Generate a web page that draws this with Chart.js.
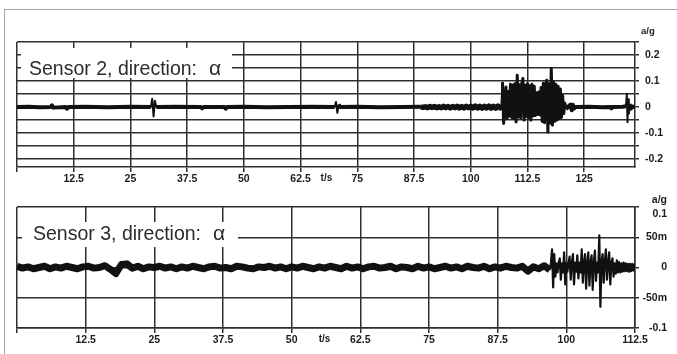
<!DOCTYPE html>
<html>
<head>
<meta charset="utf-8">
<script src="https://cdn.jsdelivr.net/npm/chart.js@4.4.0/dist/chart.umd.min.js"></script>
<style>
  html, body { margin: 0; padding: 0; background: #fff; }
  body { width: 677px; height: 354px; position: relative; overflow: hidden; }
  .frame { position: absolute; left: 4px; top: 9px; right: 0; bottom: 0; border-top: 1px solid #a3a3a3; border-left: 1px solid #a3a3a3; }
  .panel { position: absolute; left: 0; width: 677px; }
  #top { top: 0; height: 188px; }
  #bottom { top: 188px; height: 166px; }
</style>
</head>
<body>
<div class="frame"></div>
<div class="panel" id="top"><canvas id="sensor2Chart"></canvas></div>
<div class="panel" id="bottom"><canvas id="sensor3Chart"></canvas></div>
<script>
// sensor 2 record, time in s, acceleration in mg
const sensor2Time = [
  0, 2.5, 5, 7.4, 7.7, 8, 10.7, 11, 11.3, 15, 20, 25, 29.5, 29.8, 30.1, 30.4, 30.7, 35,
  40.5, 40.8, 41.1, 45.7, 46, 46.3, 50, 55, 60, 65, 70, 70.3, 70.6, 70.9, 71.2, 75, 80, 85, 89,
  89.5, 90, 90.5, 91, 91.5, 92, 92.5, 93, 93.5, 94, 94.5, 95, 95.5, 96, 96.5, 97, 97.5, 98,
  98.5, 99, 99.5, 100, 100.5, 101, 101.5, 102, 102.5, 103, 103.5, 104, 104.5, 105, 105.5,
  106, 106.5, 106.75,
  107, 107.25, 107.5, 107.75, 108, 108.25, 108.5, 108.75, 109, 109.25,
  109.5, 109.75, 110, 110.25, 110.5, 110.75, 111, 111.25, 111.5, 111.75,
  112, 112.25, 112.5, 112.75, 113, 113.25, 113.5, 113.75, 114, 114.25,
  114.5, 114.75, 115, 115.25, 115.5, 115.75, 116, 116.25, 116.5, 116.75,
  117, 117.25, 117.5, 117.75, 118, 118.25, 118.5, 118.75, 119, 119.25,
  119.5, 119.75, 120, 120.25, 120.5, 120.75, 121,
  121.5, 122, 122.25, 122.5, 122.75, 123, 126, 129, 130.8, 131, 131.2, 133.5, 134.2,
  134.4, 134.55, 134.7, 134.85, 135, 135.3, 135.6, 136.2
];
const sensor2Accel = [
  0, 1, -1, 0, 7, -2, 0, -6, 0, 1, -1, 1, 0, 32, -36, 24, 0, 1,
  0, -5, 0, 0, -6, 0, 1, -1, 0, 1, 0, 20, -22, 10, 0, 1, -1, 0, 1,
  -1, 1, -2, 2, -1, 2, -2, 1, -2, 3, -2, 2, -3, 2, -2, 3, -3, 2,
  -3, 3, -2, 3, -3, 4, -3, 3, -4, 3, -3, 4, -4, 3, -4,
  4, -3, 2,
  96, -63, 10, 77, -44, 60, -35, 88, -40, 85,
  -45, 90, -57, 122, -38, 86, -42, 92, 110, -50,
  84, -36, 90, -40, 82, -50, 88, -34, 80, -32,
  55, -28, 58, -30, 75, -55, 92, -60, 85, 103,
  -96, 90, -62, 148, -70, 95, -55, 88, -50, 80,
  -45, 70, -40, 45, -25, 15, -8,
  2, 10, -12, 9, -6, 0, 1, -1, 0, -5, 0, 1, 3,
  51, -58, 30, -25, 12, -6, 2, 0
];

// sensor 3 record, time in s, acceleration in mg
const sensor3Time = [
  0, 1, 2, 3, 4, 5, 6, 7, 8, 9, 10, 11, 12, 13, 14, 15, 16, 17, 18, 19,
  20, 21, 22, 23, 24, 25, 26, 27, 28, 29, 30, 31, 32, 33, 34, 35, 36, 37, 38, 39,
  40, 41, 42, 43, 44, 45, 46, 47, 48, 49, 50, 51, 52, 53, 54, 55, 56, 57, 58, 59,
  60, 61, 62, 63, 64, 65, 66, 67, 68, 69, 70, 71, 72, 73, 74, 75, 76, 77, 78, 79,
  80, 81, 82, 83, 84, 85, 86, 87, 88, 89, 90, 91, 92, 93, 94, 95, 96, 97,
  97.2, 97.4, 97.6, 97.8, 98, 98.2, 98.4, 98.6, 98.8, 99,
  99.2, 99.4, 99.6, 99.8, 100, 100.2, 100.4, 100.6, 100.8, 101,
  101.2, 101.4, 101.6, 101.8, 102, 102.2, 102.4, 102.6, 102.8, 103,
  103.2, 103.4, 103.6, 103.8, 104, 104.2, 104.4, 104.6, 104.8, 105,
  105.2, 105.4, 105.6, 105.8, 106, 106.2, 106.4, 106.6, 106.8, 107,
  107.2, 107.4, 107.6, 107.8, 108, 108.2, 108.4, 108.6, 108.8, 109,
  109.2, 109.4, 109.6, 109.8, 110, 110.2, 110.4, 110.6, 110.8, 111,
  111.2, 111.4, 111.6, 111.8, 112, 112.2, 112.4, 112.5
];
const sensor3Accel = [
  2, -1, 1, -2, 0, 2, -2, 1, -1, 2, 0, -2, 1, 2, -1, 0, 3, -3, -10, 5,
  6, -1, 2, -2, 1, 0, 2, -1, 1, -2, 1, -1, 2, 0, -2, 1, 2, -1, 0, -2,
  2, 1, -1, -2, 1, 0, 2, -1, 1, -2, 1, -1, 2, 0, -2, 1, -1, 2, 0, -2,
  2, -1, 1, -2, 1, 2, -1, 0, 2, -2, 1, 0, -2, 2, -1, 1, -2, 0, 2, -1,
  1, -2, 2, 0, -1, 2, -2, 1, -1, 2, 0, -1, 2, -6, 1, -2, 3, -4,
  8, 30, -33, 22, -15, 7, -8, 8, 15, -20,
  7, -8, 25, -28, 8, -7, 8, 18, -20, 7,
  22, -28, 8, -7, 20, -18, 8, -8, 30, -25,
  8, 22, -35, 8, 25, -30, 8, 20, -37, 7,
  28, -22, 8, -8, 53, -65, 8, 22, -25, 8,
  30, -20, 7, 25, -28, 8, 15, -15, 7, -10,
  12, -8, 9, -8, 7, -7, 8, -6, 7, -6,
  6, -7, 6, -6, 6, -5, 5, 0
];

const sensor2TimeTicks = [0, 12.5, 25, 37.5, 50, 62.5, 75, 87.5, 100, 112.5, 125];
const sensor3TimeTicks = [0, 12.5, 25, 37.5, 50, 62.5, 75, 87.5, 100, 112.5];
const sensor2AccelTicks = [-200, -150, -100, -50, 0, 50, 100, 150, 200, 250];
const sensor3AccelTicks = [-100, -50, 0, 50, 100];
const sensor3AccelLabels = ['-0.1', '-50m', '0', '50m', ['a/g', '0.1']];

const FONT = '"Liberation Sans", Arial, sans-serif';
const INK = '#1c1c1c';
const GRID = '#2e2e2e';

// white caption box + unit labels drawn over the grid
const panelText = {
  id: 'panelText',
  afterDatasetsDraw(chart, args, o) {
    const { ctx, chartArea: a, scales } = chart;
    ctx.save();
    ctx.fillStyle = '#fff';
    ctx.fillRect(a.left + o.box[0], a.top + o.box[1], o.box[2], o.box[3]);
    ctx.fillStyle = '#2c2c2c';
    ctx.font = '19.5px ' + FONT;
    ctx.textBaseline = 'alphabetic';
    ctx.textAlign = 'left';
    ctx.fillText(o.title, a.left + o.text[0], a.top + o.text[1]);
    const w = ctx.measureText(o.title).width;
    ctx.font = '21px ' + FONT;
    ctx.fillText('\u03b1', a.left + o.text[0] + w + 12, a.top + o.text[1]);
    ctx.fillStyle = INK;
    ctx.font = 'bold 10px ' + FONT;
    ctx.textBaseline = 'middle';
    ctx.fillText('t/s', scales.x.getPixelForValue(o.unitAt[0]) + o.unitAt[1], a.bottom + 11);
    if (o.yUnit) {
      ctx.font = 'bold 9.5px ' + FONT;
      ctx.fillText('a/g', a.right + 6, a.top - 11);
    }
    ctx.restore();
  }
};

function xAxis(max, ticks, height) {
  return {
    type: 'linear', min: 0, max: max,
    afterBuildTicks: s => { s.ticks = ticks.map(v => ({ value: v })); },
    afterFit: s => { s.height = height; },
    grid: { color: GRID, lineWidth: 1.5, tickLength: 5, tickColor: GRID },
    border: { color: GRID, width: 1.5 },
    ticks: {
      color: INK, padding: 1, maxRotation: 0, autoSkip: false,
      font: { family: FONT, size: 10.5, weight: 'bold' },
      callback: v => v === 0 ? '' : String(v)
    }
  };
}

const common = {
  responsive: true,
  maintainAspectRatio: false,
  animation: false,
  events: [],
  elements: { point: { radius: 0 }, line: { tension: 0, borderJoinStyle: 'round' } },
};

new Chart(document.getElementById('sensor2Chart'), {
  type: 'line',
  data: {
    datasets: [{
      data: sensor2Time.map((t, i) => ({ x: t, y: sensor2Accel[i] })),
      borderColor: '#111',
      borderWidth: 4,
      segment: {
        borderWidth: c => {
          const x0 = c.p0.parsed.x, x1 = c.p1.parsed.x;
          if (x0 >= 107 && x1 <= 121) return 3;              // dense burst
          if (Math.max(Math.abs(c.p0.parsed.y), Math.abs(c.p1.parsed.y)) > 12) return 2; // lone spikes
          return (x0 >= 89 && x1 <= 107) ? 5.5 : 4;
        }
      }
    }]
  },
  options: {
    ...common,
    layout: { padding: { left: 17, top: 42, right: 0, bottom: 0 } },
    plugins: {
      legend: { display: false }, tooltip: { enabled: false },
      panelText: { title: 'Sensor 2, direction:', box: [4, 6, 211, 30], text: [12, 33], unitAt: [62.5, 20], yUnit: true }
    },
    scales: {
      x: xAxis(136.2, sensor2TimeTicks, 21),
      y: {
        position: 'right', min: -230, max: 250,
        afterBuildTicks: s => { s.ticks = sensor2AccelTicks.map(v => ({ value: v })); },
        afterFit: s => { s.width = 42; },
        grid: { color: GRID, lineWidth: 1.5, tickLength: 4, tickColor: GRID },
        border: { color: GRID, width: 1.5 },
        ticks: {
          color: INK, padding: 6, crossAlign: 'near', autoSkip: false,
          font: { family: FONT, size: 10.5, weight: 'bold' },
          callback: v => v % 100 === 0 ? String(v / 1000) : ''
        }
      }
    }
  },
  plugins: [panelText]
});

new Chart(document.getElementById('sensor3Chart'), {
  type: 'line',
  data: {
    datasets: [{
      data: sensor3Time.map((t, i) => ({ x: t, y: sensor3Accel[i] })),
      borderColor: '#111',
      borderWidth: 7,
      segment: {
        borderWidth: c => c.p1.parsed.x <= 97 ? 7 : 2.2
      }
    }]
  },
  options: {
    ...common,
    layout: { padding: { left: 17, top: 19, right: 10, bottom: 0 } },
    plugins: {
      legend: { display: false }, tooltip: { enabled: false },
      panelText: { title: 'Sensor 3, direction:', box: [5, 15, 216, 25], text: [16, 33], unitAt: [50, 27], yUnit: false }
    },
    scales: {
      x: xAxis(112.5, sensor3TimeTicks, 26),
      y: {
        position: 'right', min: -100, max: 100,
        afterBuildTicks: s => { s.ticks = sensor3AccelTicks.map(v => ({ value: v })); },
        afterFit: s => { s.width = 32; },
        grid: { color: GRID, lineWidth: 1.5, tickLength: 4, tickColor: GRID },
        border: { color: GRID, width: 1.5 },
        ticks: {
          color: INK, padding: 4, crossAlign: 'far', autoSkip: false,
          font: { family: FONT, size: 10.5, weight: 'bold', lineHeight: 1.4 },
          callback: v => sensor3AccelLabels[sensor3AccelTicks.indexOf(v)]
        }
      }
    }
  },
  plugins: [panelText]
});
</script>
</body>
</html>
